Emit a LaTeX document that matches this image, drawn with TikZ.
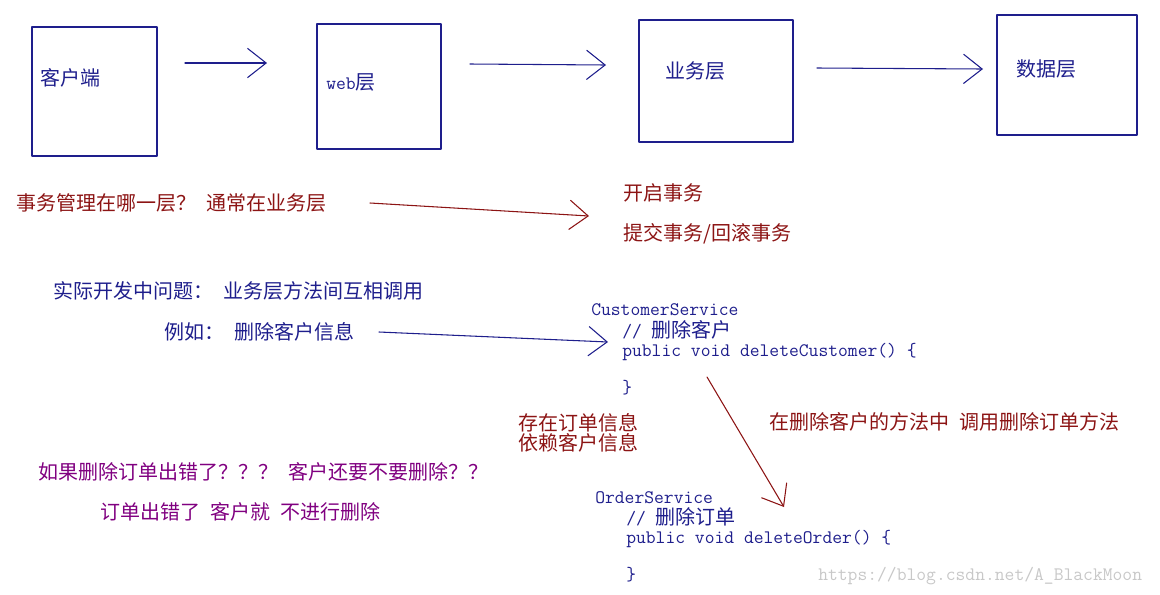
\documentclass[tikz,border=0pt]{standalone}
\usepackage{fontspec}
\setmainfont{Noto Sans CJK SC}
\usetikzlibrary{arrows.meta}
\definecolor{navy}{RGB}{30,30,140}
\definecolor{maroon}{RGB}{140,20,20}
\definecolor{plum}{RGB}{128,0,128}
\definecolor{wmgray}{RGB}{200,200,200}
\newcommand{\hs}{\hspace{0.5em}}
\newcommand{\codefont}{\fontsize{14.29pt}{16pt}\selectfont\ttfamily}

\begin{document}
\begin{tikzpicture}[x=0.75pt, y=-0.75pt, font=\fontsize{15pt}{18pt}\selectfont, line join=round, line cap=round,
	layer/.style={draw=navy, line width=1.1pt},
	txt/.style={anchor=base west, inner sep=0pt},
	code/.style={txt, navy, font=\codefont},
	go/.style={-{Straight Barb[length=14pt, width=22pt]}, line width=0.8pt}]
	\useasboundingbox (0,0) rectangle (1160,594);
	\path 
	(185,63) coordinate (A1) (267,63) coordinate (B1)
	(470,64) coordinate (A2) (606,65) coordinate (B2)
	(817,68) coordinate (A3) (983,69) coordinate (B3)
	(370,203) coordinate (Q1) (589,216) coordinate (Q2)
	(379,332) coordinate (E1) (608,342) coordinate (E2)
	(707,377) coordinate (C1) (784,507) coordinate (C2)
		;
	\draw[layer] (32,27) rectangle (157,156) (317,24) rectangle (441,149)
		(639,20) rectangle (793,142) (997,15) rectangle (1137,135);
	\node[txt, navy] (client) at (40,85) {客户端};
	\node[txt, navy] (web) at (326,89) {{\codefont web}层};
	\node[txt, navy] (biz) at (665,78) {业务层};
	\node[txt, navy] (data) at (1016,76) {数据层};
	\draw[go, navy] (A1)--(B1);
	\draw[go, navy] (A2)--(B2);
	\draw[go, navy] (A3)--(B3);
	\node[txt, maroon] (where) at (16,210) {事务管理在哪一层？\hs 通常在业务层};
	\draw[go, maroon] (Q1)--(Q2);
	\node[txt, maroon] (open) at (623,200) {开启事务};
	\node[txt, maroon] (commit) at (623,240) {提交事务/回滚事务};
	\node[txt, navy] (issue) at (53,298) {实际开发中问题：\hs 业务层方法间互相调用};
	\node[txt, navy] (eg) at (164,339) {例如：\hs 删除客户信息};
	\draw[go, navy] (E1)--(E2);
	\node[code] (cs) at (591,315) {CustomerService};
	\node[code] (cs1) at (622,337) {//\ {\fontsize{15pt}{18pt}\selectfont\rmfamily 删除客户}};
	\node[code] (cs2) at (622,356) {public void deleteCustomer() \{};
	\node[code] (cs3) at (622,393) {\}};
	\node[txt, maroon] (dep1) at (518,430) {存在订单信息};
	\node[txt, maroon] (dep2) at (518,450) {依赖客户信息};
	\draw[go, maroon] (C1)--(C2);
	\node[txt, maroon] (call) at (769,429) {在删除客户的方法中\hs 调用删除订单方法};
	\node[txt, plum] (ask) at (38,479) {如果删除订单出错了？？？\hs 客户还要不要删除？？};
	\node[txt, plum] (ans) at (100,519) {订单出错了\hs 客户就\hs 不进行删除};
	\node[code] (os) at (595,503) {OrderService};
	\node[code] (os1) at (626,524) {//\ {\fontsize{15pt}{18pt}\selectfont\rmfamily 删除订单}};
	\node[code] (os2) at (626,543) {public void deleteOrder() \{};
	\node[code] (os3) at (626,580) {\}};
	\node[txt, wmgray, font=\codefont] (wm) at (818,580) {https://blog.csdn.net/A\_BlackMoon};
\end{tikzpicture}
\end{document}
